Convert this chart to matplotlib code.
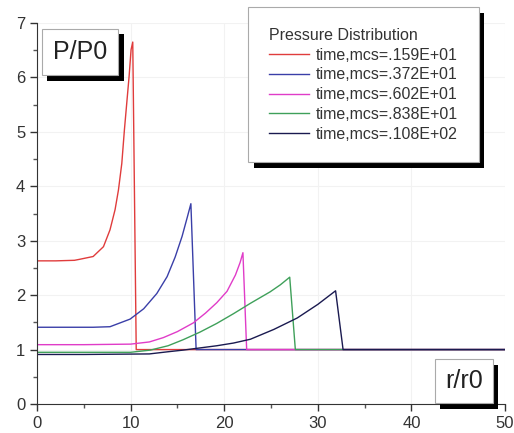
import matplotlib.pyplot as plt
import matplotlib.patheffects as pe

plt.rcParams['font.family'] = ['Liberation Sans', 'DejaVu Sans']

# curves (r/r0, P/P0)
x_159 = [0, 2, 4, 4.6, 6.0, 7.1, 7.8, 8.34, 8.7, 9.06, 9.34, 9.59, 9.84, 10.05, 10.23, 10.6, 50]
p_159 = [2.63, 2.63, 2.64, 2.66, 2.71, 2.89, 3.2, 3.57, 3.93, 4.42, 5.04, 5.53, 6.02, 6.51, 6.65, 1.0, 1.0]

x_372 = [0, 4, 6, 7.8, 9.95, 11.4, 12.8, 13.9, 14.76, 15.5, 16.07, 16.44, 17.0, 50]
p_372 = [1.41, 1.41, 1.41, 1.42, 1.56, 1.75, 2.03, 2.34, 2.7, 3.08, 3.44, 3.68, 1.0, 1.0]

x_602 = [0, 5, 10, 12, 13.5, 15, 16.7, 18, 19.2, 20.3, 21.2, 21.7, 22.0, 22.4, 50]
p_602 = [1.09, 1.09, 1.1, 1.14, 1.22, 1.33, 1.49, 1.67, 1.86, 2.07, 2.37, 2.6, 2.78, 1.0, 1.0]

x_838 = [0, 5, 10, 12.1, 14, 15.6, 17.4, 19.2, 21, 22.8, 24.9, 26, 27.0, 27.6, 50]
p_838 = [0.95, 0.95, 0.95, 0.99, 1.07, 1.18, 1.32, 1.48, 1.66, 1.85, 2.06, 2.19, 2.33, 1.0, 1.0]

x_108 = [0, 5, 12, 14, 15.6, 17.4, 19.2, 21, 22.8, 25.3, 27.8, 30, 31.9, 32.7, 50]
p_108 = [0.91, 0.91, 0.92, 0.96, 0.99, 1.03, 1.07, 1.12, 1.19, 1.37, 1.58, 1.83, 2.08, 1.0, 1.0]

labels = ['time,mcs=.159E+01', 'time,mcs=.372E+01', 'time,mcs=.602E+01',
          'time,mcs=.838E+01', 'time,mcs=.108E+02']
colors = ['#e03c3c', '#3a3fa8', '#e03cc8', '#3fa05a', '#1a1a50']

fig = plt.figure(figsize=(5.14, 4.33), dpi=100)
ax = fig.add_axes([37 / 514, 1 - 404 / 433, 468 / 514, 381 / 433])

series = [(x_159, p_159), (x_372, p_372), (x_602, p_602), (x_838, p_838), (x_108, p_108)]
for (xs, ps), lab, col in zip(series, labels, colors):
    ax.plot(xs, ps, color=col, lw=1.0, label=lab)

ax.set_xlim(0, 50)
ax.set_ylim(0, 7)
ax.set_xticks(range(0, 51, 10))
ax.set_xticks(range(5, 50, 10), minor=True)
ax.set_yticks(range(0, 8))
ax.set_yticks([i + 0.5 for i in range(7)], minor=True)
ax.tick_params(labelsize=12, colors='#333333', length=5, width=1)
ax.tick_params(which='minor', length=3, width=1, colors='#555555')
ax.spines['top'].set_visible(False)
ax.spines['right'].set_visible(False)
for s in ['left', 'bottom']:
    ax.spines[s].set_color('#333333')
ax.grid(True, color='#f2f2f2', lw=0.8)
ax.set_axisbelow(True)

shadow = [pe.SimplePatchShadow(offset=(4, -4), shadow_rgbFace='black', alpha=1.0), pe.Normal()]

t1 = ax.text(4.6, 6.47, 'P/P0', fontsize=18, ha='center', va='center', color='#222222',
             bbox=dict(boxstyle='square,pad=0.45', fc='white', ec='#aaaaaa', lw=0.8))
t1.get_bbox_patch().set_path_effects(shadow)
t2 = ax.text(45.6, 0.42, 'r/r0', fontsize=18, ha='center', va='center', color='#222222',
             bbox=dict(boxstyle='square,pad=0.4', fc='white', ec='#aaaaaa', lw=0.8), clip_on=False)
t2.get_bbox_patch().set_path_effects(shadow)

leg = ax.legend(loc='upper left', bbox_to_anchor=(248 / 514, 1 - 7 / 433),
                bbox_transform=fig.transFigure, borderaxespad=0, title='Pressure Distribution',
                fontsize=11.5, title_fontsize=11.5, alignment='left', fancybox=False,
                framealpha=1, edgecolor='#aaaaaa', borderpad=1.3, labelspacing=0.3,
                handlelength=2.5, handletextpad=0.45)
leg.get_frame().set_linewidth(0.8)
leg.get_frame().set_path_effects(shadow)
for txt in leg.get_texts():
    txt.set_color('#333333')
leg.get_title().set_color('#333333')

fig.savefig('out.png', dpi=100)
